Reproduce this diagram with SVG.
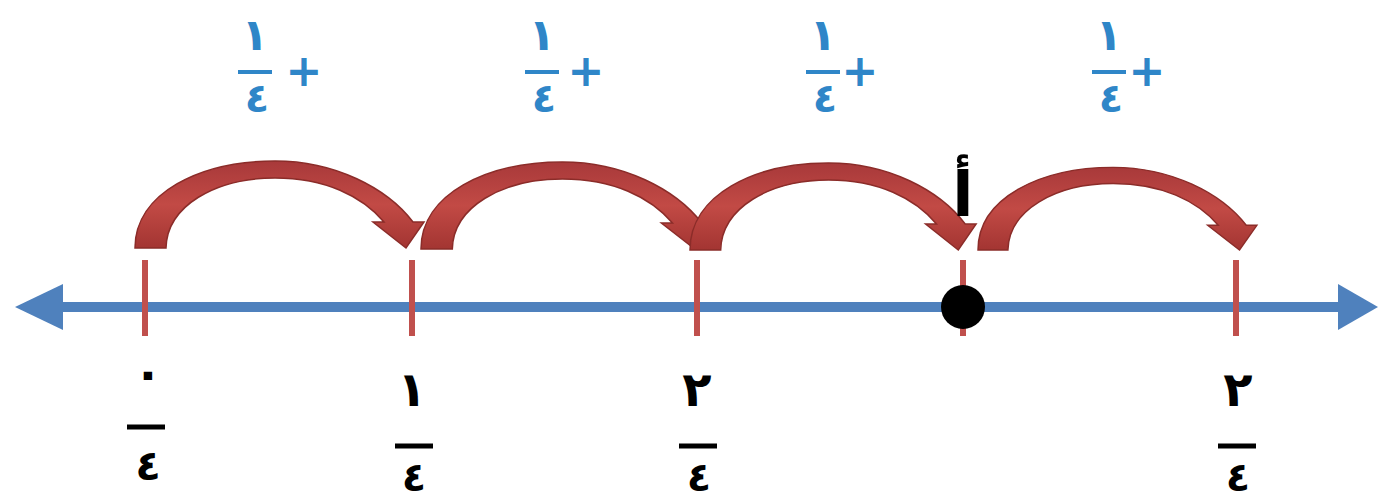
<svg xmlns="http://www.w3.org/2000/svg" width="1378" height="501" viewBox="0 0 1378 501">
<style>
.tick{stroke:#c0504d;stroke-width:6}
.axis{stroke:#4f81bd;stroke-width:10}
.top{font-family:"DejaVu Sans",sans-serif;font-weight:bold;fill:#2f86c8;text-anchor:middle}
.bot{font-family:"DejaVu Sans",sans-serif;font-weight:bold;fill:#000;text-anchor:middle}
.tbar{stroke:#2f86c8;stroke-width:4}
.bbar{stroke:#000;stroke-width:5}
.jump{fill:url(#red);stroke:#8b2c29;stroke-width:1.5}
</style>
<defs>
<linearGradient id="red" x1="0" y1="0" x2="0" y2="1">
<stop offset="0" stop-color="#a8393a"/>
<stop offset="0.5" stop-color="#c24a45"/>
<stop offset="1" stop-color="#a33532"/>
</linearGradient>
<path id="arc" d="M0,0 C0,-55 65,-87 140,-87 C200,-87 252,-60 278,-26 L289,-26 L271,0 L238,-26 L249,-26 C227,-52 190,-70 140,-70 C80,-70 32,-42 31,0 Z"/>
</defs>
<rect width="1378" height="501" fill="#fff"/>
<g id="axis">
<line class="axis" x1="55" y1="307" x2="1345" y2="307"/>
<polygon points="15,307 63,284 63,330" fill="#4f81bd"/>
<polygon points="1378,307 1338,284 1338,330" fill="#4f81bd"/>
</g>
<g id="ticks">
<line class="tick" x1="145" y1="260" x2="145" y2="336"/>
<line class="tick" x1="412" y1="260" x2="412" y2="336"/>
<line class="tick" x1="697" y1="260" x2="697" y2="336"/>
<line class="tick" x1="963" y1="260" x2="963" y2="336"/>
<line class="tick" x1="1236" y1="260" x2="1236" y2="336"/>
</g>
<g id="connectors">
<use href="#arc" class="jump" transform="translate(135,248)"/>
<use href="#arc" class="jump" transform="translate(421,249) scale(1.01,1)"/>
<use href="#arc" class="jump" transform="translate(690,250) scale(0.99,1)"/>
<use href="#arc" class="jump" transform="translate(978,250) scale(0.965,0.95)"/>
</g>
<g id="point-a">
<circle cx="963" cy="307" r="22" fill="#000"/>
<text class="bot" x="963" y="216" font-size="62">أ</text>
</g>
<g id="step1">
<text class="top" x="255" y="50" font-size="44">١</text>
<line class="tbar" x1="238" y1="72" x2="272" y2="72"/>
<text class="top" x="257" y="112" font-size="40">٤</text>
<text class="top" x="304" y="86" font-size="44">+</text>
</g>
<g id="step2">
<text class="top" x="542" y="50" font-size="44">١</text>
<line class="tbar" x1="525" y1="72" x2="559" y2="72"/>
<text class="top" x="544" y="112" font-size="40">٤</text>
<text class="top" x="586" y="86" font-size="44">+</text>
</g>
<g id="step3">
<text class="top" x="823" y="50" font-size="44">١</text>
<line class="tbar" x1="806" y1="72" x2="840" y2="72"/>
<text class="top" x="825" y="112" font-size="40">٤</text>
<text class="top" x="860" y="86" font-size="44">+</text>
</g>
<g id="step4">
<text class="top" x="1109" y="50" font-size="44">١</text>
<line class="tbar" x1="1092" y1="72" x2="1126" y2="72"/>
<text class="top" x="1111" y="112" font-size="40">٤</text>
<text class="top" x="1147" y="86" font-size="44">+</text>
</g>
<g id="label0">
<text class="bot" x="148" y="389" font-size="48">٠</text>
<line class="bbar" x1="127" y1="427" x2="165" y2="427"/>
<text class="bot" x="148" y="480" font-size="42">٤</text>
</g>
<g id="label1">
<text class="bot" x="412" y="406" font-size="48">١</text>
<line class="bbar" x1="395" y1="446" x2="433" y2="446"/>
<text class="bot" x="414" y="491" font-size="40">٤</text>
</g>
<g id="label2">
<text class="bot" x="697" y="406" font-size="48">٢</text>
<line class="bbar" x1="679" y1="446" x2="717" y2="446"/>
<text class="bot" x="699" y="491" font-size="40">٤</text>
</g>
<g id="label3">
<text class="bot" x="1238" y="406" font-size="48">٢</text>
<line class="bbar" x1="1218" y1="446" x2="1256" y2="446"/>
<text class="bot" x="1238" y="491" font-size="40">٤</text>
</g>
</svg>
